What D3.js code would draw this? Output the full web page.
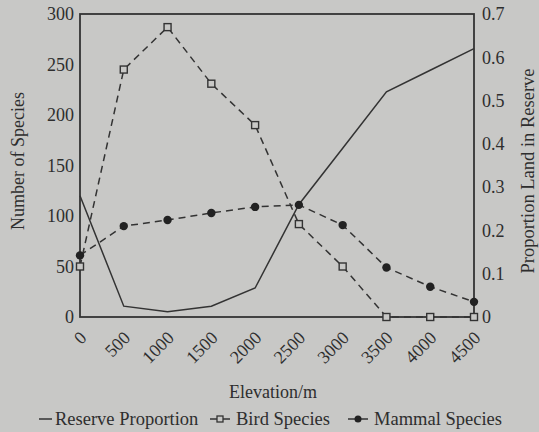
<!DOCTYPE html>
<html>
<head>
<meta charset="utf-8">
<script src="https://cdn.jsdelivr.net/npm/d3@7"></script>
<style>
  html, body { margin: 0; padding: 0; background: #c8c8c6; }
  svg { display: block; }
  text { font-family: "Liberation Serif", "Times New Roman", serif; fill: #2e2e2e; }
</style>
</head>
<body>
<svg id="chart" width="539" height="432"></svg>
<script>
// Elevation bands (m) and the values measured in each band
const elevation = [0, 500, 1000, 1500, 2000, 2500, 3000, 3500, 4000, 4500];
const reserveProportion = [0.28, 0.025, 0.012, 0.025, 0.067, 0.26, 0.39, 0.52, 0.57, 0.62];
const birdSpecies = [50, 245, 287, 231, 190, 92, 50, 0, 0, 0];
const mammalSpecies = [61, 90, 96, 103, 109, 111, 91, 49, 30, 15];

const leftTicks = [0, 50, 100, 150, 200, 250, 300];
const rightTicks = [0, 0.1, 0.2, 0.3, 0.4, 0.5, 0.6, 0.7];

const ink = "#333333";
const paper = "#c8c8c6";
const svg = d3.select("#chart");

const m = { left: 80, right: 474, top: 14, bottom: 317 };

const x = d3.scaleLinear().domain([0, 4500]).range([m.left, m.right]);
const yLeft = d3.scaleLinear().domain([0, 300]).range([m.bottom, m.top]);
const yRight = d3.scaleLinear().domain([0, 0.7]).range([m.bottom, m.top]);

// Left axis: species counts
const leftAxis = svg.append("g")
  .attr("transform", `translate(${m.left},0)`)
  .call(d3.axisLeft(yLeft).tickValues(leftTicks).tickSize(0).tickPadding(6).tickFormat(d3.format("d")));

// Right axis: proportion of land in reserve
const rightAxis = svg.append("g")
  .attr("transform", `translate(${m.right},0)`)
  .call(d3.axisRight(yRight).tickValues(rightTicks).tickSize(0).tickPadding(8)
    .tickFormat(d => d === 0 ? "0" : d3.format(".1f")(d)));

// Bottom axis: elevation, labels turned 45 degrees
const bottomAxis = svg.append("g")
  .attr("transform", `translate(0,${m.bottom})`)
  .call(d3.axisBottom(x).tickValues(elevation).tickSize(0).tickFormat(d3.format("d")));

bottomAxis.selectAll("text")
  .attr("text-anchor", "end")
  .attr("dy", null)
  .attr("y", 0)
  .attr("transform", "translate(7,22) rotate(-45)");

[leftAxis, rightAxis, bottomAxis].forEach(g => {
  g.attr("font-family", null);
  g.select(".domain").remove();
  g.selectAll("text").style("font-size", "18px").attr("fill", "#2e2e2e");
});

// Plot frame
svg.append("rect")
  .attr("x", m.left).attr("y", m.top)
  .attr("width", m.right - m.left).attr("height", m.bottom - m.top)
  .attr("fill", "none").attr("stroke", ink).attr("stroke-width", 1.8);

// Series lines
const lineReserve = d3.line().x((d, i) => x(elevation[i])).y(d => yRight(d));
const lineSpecies = d3.line().x((d, i) => x(elevation[i])).y(d => yLeft(d));

svg.append("path")
  .datum(reserveProportion)
  .attr("d", lineReserve)
  .attr("fill", "none").attr("stroke", ink).attr("stroke-width", 1.5);

svg.append("path")
  .datum(birdSpecies)
  .attr("d", lineSpecies)
  .attr("fill", "none").attr("stroke", ink).attr("stroke-width", 1.5)
  .attr("stroke-dasharray", "7,5");

svg.append("path")
  .datum(mammalSpecies)
  .attr("d", lineSpecies)
  .attr("fill", "none").attr("stroke", ink).attr("stroke-width", 1.5)
  .attr("stroke-dasharray", "7,5");

// Bird markers: hollow squares
svg.append("g").selectAll("rect")
  .data(birdSpecies)
  .join("rect")
  .attr("x", (d, i) => x(elevation[i]) - 3.5)
  .attr("y", d => yLeft(d) - 3.5)
  .attr("width", 7).attr("height", 7)
  .attr("fill", paper).attr("stroke", ink).attr("stroke-width", 1.4);

// Mammal markers: filled dots
svg.append("g").selectAll("circle")
  .data(mammalSpecies)
  .join("circle")
  .attr("cx", (d, i) => x(elevation[i]))
  .attr("cy", d => yLeft(d))
  .attr("r", 4.2)
  .attr("fill", "#222");

// Axis titles
svg.append("text")
  .attr("transform", "translate(24,161) rotate(-90)")
  .attr("text-anchor", "middle")
  .style("font-size", "18px")
  .text("Number of Species");

svg.append("text")
  .attr("transform", "translate(534,171) rotate(-90)")
  .attr("text-anchor", "middle")
  .style("font-size", "18.5px")
  .text("Proportion Land in Reserve");

svg.append("text")
  .attr("x", 273).attr("y", 398)
  .attr("text-anchor", "middle")
  .style("font-size", "18px")
  .text("Elevation/m");

// Legend
const legendY = 425;
const legend = svg.append("g").style("font-size", "18.5px");

legend.append("line")
  .attr("x1", 39).attr("x2", 52).attr("y1", legendY - 6).attr("y2", legendY - 6)
  .attr("stroke", ink).attr("stroke-width", 1.5);
legend.append("text").attr("x", 55).attr("y", legendY).text("Reserve Proportion");

legend.append("line")
  .attr("x1", 210).attr("x2", 230).attr("y1", legendY - 6).attr("y2", legendY - 6)
  .attr("stroke", ink).attr("stroke-width", 1.5);
legend.append("rect")
  .attr("x", 217).attr("y", legendY - 9).attr("width", 6).attr("height", 6)
  .attr("fill", paper).attr("stroke", ink).attr("stroke-width", 1.3);
legend.append("text").attr("x", 236).attr("y", legendY).text("Bird Species");

legend.append("line")
  .attr("x1", 348).attr("x2", 368).attr("y1", legendY - 6).attr("y2", legendY - 6)
  .attr("stroke", ink).attr("stroke-width", 1.5);
legend.append("circle")
  .attr("cx", 358).attr("cy", legendY - 6).attr("r", 3.5).attr("fill", "#222");
legend.append("text").attr("x", 374).attr("y", legendY).text("Mammal Species");
</script>
</body>
</html>
